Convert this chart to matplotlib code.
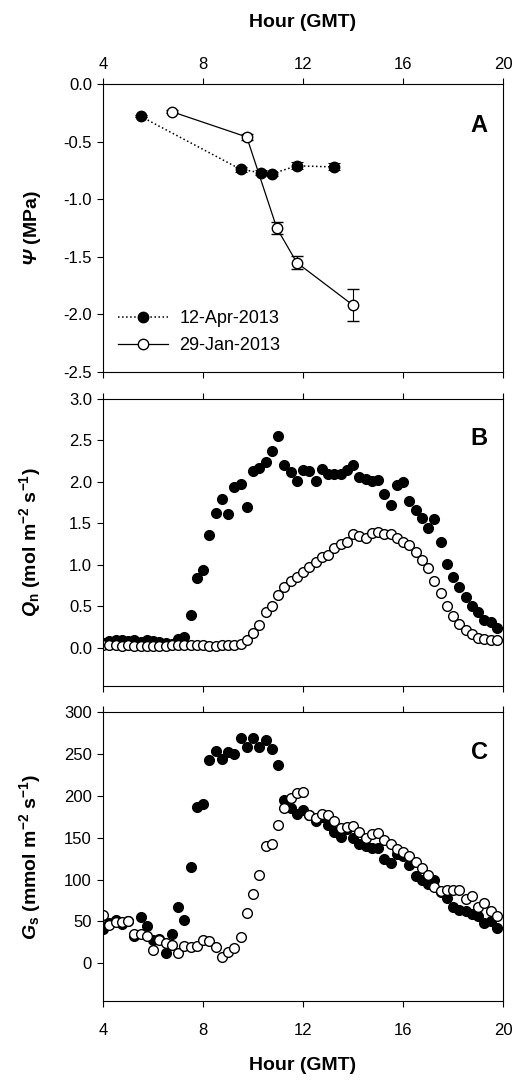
import matplotlib
matplotlib.use("Agg")
import matplotlib.pyplot as plt
import numpy as np

plt.rcParams['font.family'] = ['Liberation Sans', 'DejaVu Sans']
plt.rcParams['axes.unicode_minus'] = False
plt.rcParams['mathtext.fontset'] = 'custom'
plt.rcParams['mathtext.rm'] = 'Liberation Sans:italic:bold'
plt.rcParams['mathtext.it'] = 'Liberation Sans:italic:bold'
plt.rcParams['mathtext.bf'] = 'Liberation Sans:bold'

# Panel A: leaf water potential
psi_apr_hour = [5.5, 9.5, 10.3, 10.75, 11.75, 13.25]
psi_apr = [-0.28, -0.74, -0.77, -0.78, -0.71, -0.72]
psi_apr_err = [0.01, 0.02, 0.02, 0.02, 0.03, 0.03]
psi_jan_hour = [6.75, 9.75, 10.95, 11.75, 14.0]
psi_jan = [-0.24, -0.46, -1.25, -1.55, -1.92]
psi_jan_err = [0.01, 0.03, 0.05, 0.06, 0.14]

# Panels B and C: quarter-hourly readings, 4:00 to 19:45
hours = [4 + 0.25 * i for i in range(64)]

qn_apr = [0.06, 0.08, 0.09, 0.09, 0.08, 0.09, 0.07, 0.09, 0.08, 0.07, 0.06, 0.05,
          0.11, 0.13, 0.40, 0.84, 0.94, 1.36, 1.63, 1.79, 1.61, 1.94, 1.98, 1.70,
          2.13, 2.17, 2.24, 2.37, 2.55, 2.20, 2.12, 2.01, 2.15, 2.13, 2.01, 2.16,
          2.10, 2.09, 2.10, 2.15, 2.21, 2.06, 2.04, 2.01, 2.02, 1.85, 1.72, 1.96,
          2.00, 1.77, 1.66, 1.57, 1.44, 1.55, 1.28, 1.01, 0.86, 0.73, 0.61, 0.50,
          0.43, 0.34, 0.31, 0.24]
qn_jan = [0.03, 0.03, 0.03, 0.02, 0.03, 0.02, 0.02, 0.02, 0.02, 0.02, 0.02, 0.03,
          0.03, 0.03, 0.03, 0.03, 0.03, 0.02, 0.02, 0.03, 0.03, 0.03,
          0.05, 0.10, 0.18, 0.27, 0.43, 0.51, 0.64, 0.73, 0.80, 0.86,
          0.92, 0.97, 1.04, 1.09, 1.12, 1.20, 1.25, 1.28, 1.37, 1.35,
          1.32, 1.39, 1.40, 1.37, 1.37, 1.32, 1.28, 1.24, 1.15, 1.06,
          0.96, 0.80, 0.66, 0.51, 0.38, 0.29, 0.21, 0.17, 0.12, 0.11,
          0.10, 0.10]

gs_apr = [41, 48, 52, 47, 50, 33, 55, 45, 28, 29, 12, 35,
          67, 52, 115, 187, 190, 243, 254, 244, 252, 250, 269, 258,
          269, 258, 266, 256, 237, 195, 185, 178, 183, 177, 170, 175,
          165, 157, 151, 160, 150, 143, 140, 138, 138, 124, 120, 131,
          128, 117, 104, 99, 95, 99, 85, 78, 67, 64, 62, 59,
          56, 48, 50, 42]
gs_jan = [58, 46, 49, 49, 51, 35, 35, 33, 16, 28, 24, 22,
          12, 21, 20, 21, 28, 27, 19, 8, 14, 18, 31, 60,
          83, 105, 140, 143, 165, 185, 197, 203, 204, 177, 173, 178,
          177, 170, 162, 163, 164, 157, 150, 154, 155, 147, 143, 136,
          133, 128, 121, 114, 105, 91, 86, 88, 88, 87, 77, 80,
          67, 72, 63, 57]

W, H = 515, 1082
fig = plt.figure(figsize=(W / 100, H / 100), dpi=100)

def add_panel(top, bottom):
    return fig.add_axes([103 / W, 1 - bottom / H, 400 / W, (bottom - top) / H])

axA = add_panel(84, 372)
axB = add_panel(399, 686)
axC = add_panel(712, 1001)

lab_fs = 14
for ax in (axA, axB, axC):
    ax.set_xlim(4, 20)
    ax.set_xticks([4, 8, 12, 16, 20])
    ax.tick_params(axis='both', direction='out', length=4.5, width=0.8,
                   labelsize=12, top=True, bottom=True, right=False,
                   labeltop=False, labelbottom=False)
    for s in ax.spines.values():
        s.set_linewidth(0.8)
    ax.yaxis.set_label_coords(-0.15, 0.5)

# Panel A
axA.errorbar(psi_apr_hour, psi_apr, yerr=psi_apr_err, fmt='o', ls=':', lw=1.1,
             color='black', mfc='black', mec='black', ms=7.5, capsize=4,
             elinewidth=0.8, capthick=0.8, label='12-Apr-2013')
axA.errorbar(psi_jan_hour, psi_jan, yerr=psi_jan_err, fmt='o', ls='-', lw=0.9,
             color='black', mfc='white', mec='black', mew=1, ms=7.5, capsize=4,
             elinewidth=0.8, capthick=0.8, label='29-Jan-2013')
axA.set_ylim(-2.5, 0)
axA.set_yticks(np.arange(-2.5, 0.01, 0.5))
axA.yaxis.set_major_formatter(matplotlib.ticker.FormatStrFormatter('%.1f'))
axA.tick_params(axis='x', labeltop=True, pad=4)
axA.xaxis.set_label_position('top')
axA.set_xlabel('Hour (GMT)', fontsize=lab_fs, fontweight='bold', labelpad=22)
axA.set_ylabel(r'$\Psi$ (MPa)', fontsize=lab_fs, fontweight='bold')
axA.text(0.94, 0.855, 'A', transform=axA.transAxes, fontsize=17,
         fontweight='bold', ha='center', va='center')
handles, labels = axA.get_legend_handles_labels()
handles = [h[0] for h in handles]
axA.legend(handles, labels, loc='lower left', frameon=False, fontsize=13,
           handlelength=2.8, handletextpad=0.6, borderaxespad=0.2,
           labelspacing=0.55, bbox_to_anchor=(0.01, 0.025))

# Panel B
axB.plot(hours, qn_apr, 'o', color='black', ms=7, mec='black')
axB.plot(hours, qn_jan, 'o', mfc='white', mec='black', mew=1, ms=7)
axB.set_ylim(-0.46, 3.0)
axB.set_yticks(np.arange(0, 3.01, 0.5))
axB.yaxis.set_major_formatter(matplotlib.ticker.FormatStrFormatter('%.1f'))
axB.set_ylabel(r'$\mathit{Q}_\mathbf{n}$ (mol m$^{\mathbf{-2}}$ s$^{\mathbf{-1}}$)',
               fontsize=lab_fs, fontweight='bold')
axB.text(0.94, 0.862, 'B', transform=axB.transAxes, fontsize=17,
         fontweight='bold', ha='center', va='center')

# Panel C
axC.plot(hours, gs_apr, 'o', color='black', ms=7, mec='black')
axC.plot(hours, gs_jan, 'o', mfc='white', mec='black', mew=1, ms=7)
axC.set_ylim(-45, 300)
axC.set_yticks(np.arange(0, 301, 50))
axC.tick_params(axis='x', labelbottom=True, pad=11)
axC.set_xlabel('Hour (GMT)', fontsize=lab_fs, fontweight='bold', labelpad=14)
axC.set_ylabel(r'$\mathit{G}_\mathbf{s}$ (mmol m$^{\mathbf{-2}}$ s$^{\mathbf{-1}}$)',
               fontsize=lab_fs, fontweight='bold')
axC.text(0.94, 0.86, 'C', transform=axC.transAxes, fontsize=17,
         fontweight='bold', ha='center', va='center')

fig.savefig('out.png', dpi=100)
